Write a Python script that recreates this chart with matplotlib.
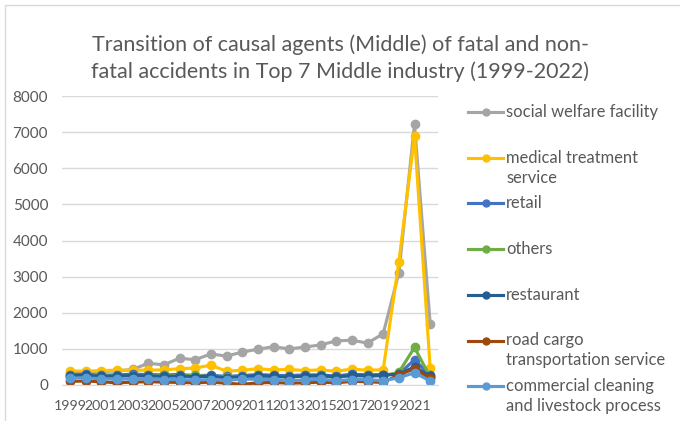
import matplotlib
matplotlib.use("Agg")
import matplotlib.pyplot as plt
from matplotlib.lines import Line2D
from matplotlib.patches import Rectangle

plt.rcParams["font.family"] = ["Lato", "DejaVu Sans"]

years = list(range(1999, 2023))
tick_years = list(range(1999, 2022, 2))

series_names = [
    "social welfare facility",
    "medical treatment\nservice",
    "retail",
    "others",
    "restaurant",
    "road cargo\ntransportation service",
    "commercial cleaning\nand livestock process",
]

social_welfare = [340, 360, 370, 390, 430, 600, 560, 740, 700, 860, 800, 910,
                  990, 1060, 1000, 1050, 1110, 1220, 1240, 1160, 1420, 3100, 7220, 1700]
medical = [390, 380, 400, 410, 410, 410, 420, 450, 470, 550, 380, 410,
           450, 420, 430, 400, 420, 380, 440, 410, 420, 3400, 6900, 480]
retail = [290, 300, 270, 280, 300, 290, 280, 290, 260, 270, 240, 260,
          290, 270, 260, 280, 280, 250, 300, 280, 290, 300, 700, 270]
others = [250, 260, 250, 250, 260, 240, 270, 260, 270, 230, 220, 220,
          240, 230, 230, 240, 240, 220, 250, 240, 250, 350, 1040, 220]
restaurant = [260, 270, 240, 250, 260, 250, 240, 250, 230, 240, 200, 230,
              260, 240, 220, 250, 260, 220, 270, 260, 270, 300, 500, 250]
road_cargo = [100, 110, 90, 60, 80, 90, 80, 70, 60, 80, 50, 20,
              60, 70, 50, 60, 80, 60, 100, 90, 70, 280, 450, 180]
cleaning = [190, 200, 170, 160, 170, 170, 150, 150, 140, 150, 130, 160,
            160, 150, 120, 140, 160, 120, 150, 150, 120, 200, 340, 110]

all_series = [social_welfare, medical, retail, others, restaurant, road_cargo, cleaning]
colors = ["#A5A5A5", "#FFC000", "#4472C4", "#70AD47", "#255E91", "#9E480E", "#5B9BD5"]
text_color = "#595959"

fig = plt.figure(figsize=(6.8, 4.21), dpi=100)
ax = fig.add_axes([62 / 680, 1 - 385 / 421, 376 / 680, 289 / 421])

for values, color, name in zip(all_series, colors, series_names):
    ax.plot(years, values, color=color, linewidth=2.25, marker="o",
            markersize=6, label=name, solid_joinstyle="round")

ax.set_xlim(1998.5, 2022.5)
ax.set_ylim(0, 8000)
ax.set_yticks(range(0, 8001, 1000))
ax.set_xticks(tick_years)
ax.set_xticklabels([str(y) for y in tick_years])
ax.tick_params(axis="y", length=0, labelsize=11, colors=text_color, pad=10)
ax.tick_params(axis="x", length=0, labelsize=10.2, colors=text_color, pad=11)
ax.grid(axis="y", color="#D9D9D9", linewidth=1)
ax.set_axisbelow(True)
for side in ["top", "right", "left"]:
    ax.spines[side].set_visible(False)
ax.spines["bottom"].set_color("#D9D9D9")

fig.text(0.5, 1 - 45 / 421, "Transition of causal agents (Middle) of fatal and non-",
         ha="center", va="center", fontsize=15.5, color=text_color)
fig.text(0.5, 1 - 72 / 421, "fatal accidents in Top 7 Middle industry (1999-2022)",
         ha="center", va="center", fontsize=15.5, color=text_color)

# legend drawn by hand to get Excel's even spacing
for i, (name, color) in enumerate(zip(series_names, colors)):
    y = 1 - (112 + i * 45.7) / 421
    fig.add_artist(Line2D([468 / 680, 503 / 680], [y, y], color=color, linewidth=2.25))
    fig.add_artist(Line2D([485.5 / 680], [y], color=color, marker="o", markersize=5))
    fig.text(506 / 680, y + 8 / 421, name, ha="left", va="top", fontsize=11.9,
             color=text_color, linespacing=1.3)

fig.patches.append(Rectangle((5 / 680, -0.1), 1.2, 1.1 - 5 / 421,
                             transform=fig.transFigure, fill=False,
                             edgecolor="#D9D9D9", linewidth=1))

fig.savefig("out.png", dpi=100)
